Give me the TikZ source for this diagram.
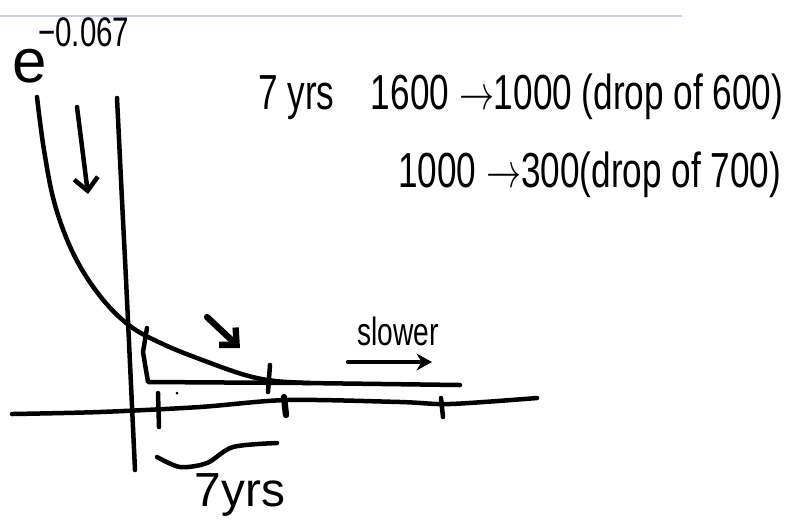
\documentclass[tikz,border=0pt]{standalone}
\usepackage{fontspec}
\setmainfont{Liberation Sans}
\usetikzlibrary{arrows.meta}
\definecolor{ruleblue}{RGB}{200,208,222}
\newcommand{\handtext}[1]{\scalebox{1}[1.4]{#1}}

\begin{document}
\begin{tikzpicture}[x=0.025cm, y=-0.025cm,
    pen/.style={line width=3.2pt, line cap=round, line join=round},
    barb/.style={-{Straight Barb[length=9pt, width=17pt]}},
    note/.style={inner sep=0pt, font=\fontsize{25}{27}\selectfont}]
    \useasboundingbox (0,0) rectangle (788,529);
    \draw[ruleblue, line width=1pt] (0,16) -- (682,16);

    \node[anchor=base west, inner sep=0pt, font=\fontsize{44}{44}\selectfont] (expo) at (12,82) {e\hspace{-6pt}\raisebox{25pt}{\fontsize{21}{21}\selectfont\handtext{−0.067}}};
    \node[note, anchor=west] (rate1) at (258,97) {\handtext{7 yrs\hspace{26pt}1600 $\rightarrow$1000 (drop of 600)}};
    \node[note, anchor=west] (rate2) at (398,175) {\handtext{1000 $\rightarrow$300(drop of 700)}};
    \node[inner sep=0pt, font=\fontsize{20}{20}\selectfont] (slow) at (398,331) {\handtext{slower}};
    \node[inner sep=0pt, font=\fontsize{34}{34}\selectfont] (span) at (240,495) {7yrs};

    \draw[pen] plot[smooth] coordinates {(117,98) (122,200) (127,300) (135,470)};
    \draw[pen] plot[smooth] coordinates {(12,414) (100,412) (200,407) (287,400) (400,402) (450,404) (537,398)};
    \draw[pen] plot[smooth, tension=0.6] coordinates {(37,97) (44,150) (55,205) (74,255) (100,296) (130,326) (165,345) (205,361) (245,375) (275,381) (310,383)};
    \draw[pen] (147,328) -- (143,352) -- (148,382) -- (305,383) -- (460,385);
    \draw[pen] (270,365) -- (268,392);
    \draw[pen] (158,393) -- (159,427);
    \draw[pen, line width=4.5pt] (284,397) -- (286,415);
    \draw[pen] (441,398) -- (443,417);
    \fill (177,393) circle (1.5);

    \draw[pen, barb] (77,107) -- (88,194);
    \draw[pen, line width=4.5pt, barb] (207,317) -- (240,348);
    \draw[pen, -{Stealth[length=11pt, width=12pt]}] (348,362) -- (432,362);
    \draw[pen] plot[smooth] coordinates {(157,457) (180,467) (207,463) (233,447) (277,443)};
\end{tikzpicture}
\end{document}
